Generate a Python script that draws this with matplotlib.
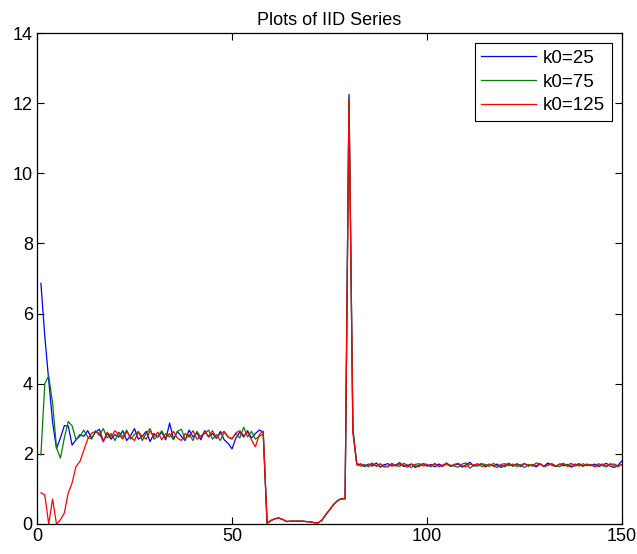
import numpy as np
import matplotlib
matplotlib.use("Agg")
import matplotlib.pyplot as plt

plt.rcParams['font.family'] = ['Liberation Sans', 'DejaVu Sans']

# ---------------------------------
# DATA
# ---------------------------------
title = "Plots of IID Series"
labels = ["k0=25", "k0=75", "k0=125"]
colors = ["#0000ff", "#008000", "#ff0000"]

# shared trough and spike section, x = 59..81
trough_k25 = [0.02, 0.10, 0.15, 0.17, 0.13, 0.07, 0.08, 0.08, 0.08, 0.08, 0.07, 0.06,
              0.04, 0.03, 0.10, 0.26, 0.40, 0.55, 0.66, 0.72, 0.72, 12.25, 2.70]
trough_k75 = [0.02, 0.10, 0.15, 0.17, 0.13, 0.07, 0.08, 0.08, 0.08, 0.08, 0.07, 0.06,
              0.04, 0.03, 0.10, 0.26, 0.40, 0.55, 0.66, 0.72, 0.72, 12.15, 2.65]
trough_k125 = [0.02, 0.10, 0.15, 0.17, 0.13, 0.07, 0.08, 0.08, 0.08, 0.08, 0.07, 0.06,
               0.04, 0.03, 0.10, 0.26, 0.40, 0.55, 0.66, 0.72, 0.72, 12.10, 2.60]

# x = 1..58
head_k25 = [6.86, 5.35, 4.10, 2.90, 2.15, 2.45, 2.80, 2.80, 2.25, 2.40,
            2.55, 2.50, 2.66, 2.45, 2.62, 2.70, 2.36, 2.58, 2.42, 2.55,
            2.48, 2.66, 2.38, 2.52, 2.72, 2.42, 2.50, 2.64, 2.35, 2.58,
            2.48, 2.62, 2.40, 2.88, 2.42, 2.64, 2.50, 2.38, 2.68, 2.48,
            2.60, 2.40, 2.66, 2.48, 2.58, 2.44, 2.64, 2.40, 2.30, 2.14,
            2.45, 2.62, 2.48, 2.66, 2.45, 2.58, 2.68, 2.62]
head_k75 = [1.97, 4.00, 4.22, 3.45, 2.17, 1.88, 2.45, 2.92, 2.80, 2.40,
            2.50, 2.68, 2.48, 2.42, 2.66, 2.52, 2.72, 2.45, 2.58, 2.38,
            2.62, 2.48, 2.68, 2.42, 2.55, 2.64, 2.38, 2.58, 2.72, 2.42,
            2.50, 2.66, 2.45, 2.58, 2.40, 2.64, 2.70, 2.42, 2.55, 2.38,
            2.64, 2.48, 2.58, 2.68, 2.42, 2.55, 2.38, 2.62, 2.48, 2.44,
            2.58, 2.45, 2.76, 2.48, 2.64, 2.42, 2.50, 2.56]
head_k125 = [0.89, 0.83, 0.00, 0.71, 0.00, 0.12, 0.31, 0.88, 1.17, 1.64,
             1.78, 2.10, 2.42, 2.59, 2.64, 2.59, 2.34, 2.62, 2.48, 2.66,
             2.55, 2.42, 2.64, 2.48, 2.38, 2.62, 2.50, 2.42, 2.66, 2.48,
             2.62, 2.40, 2.58, 2.48, 2.64, 2.45, 2.38, 2.58, 2.48, 2.66,
             2.42, 2.50, 2.62, 2.50, 2.66, 2.45, 2.58, 2.64, 2.48, 2.42,
             2.60, 2.66, 2.52, 2.62, 2.40, 2.20, 2.55, 2.65]

# x = 82..150
tail_k25 = [1.72, 1.68, 1.64, 1.71, 1.65, 1.74, 1.62, 1.69, 1.72, 1.65,
            1.68, 1.75, 1.64, 1.67, 1.71, 1.61, 1.68, 1.72, 1.65, 1.70,
            1.63, 1.71, 1.66, 1.74, 1.64, 1.68, 1.71, 1.62, 1.69, 1.76,
            1.65, 1.68, 1.72, 1.63, 1.70, 1.66, 1.71, 1.61, 1.68, 1.73,
            1.65, 1.70, 1.64, 1.72, 1.66, 1.68, 1.63, 1.71, 1.65, 1.74,
            1.68, 1.64, 1.71, 1.66, 1.70, 1.62, 1.68, 1.72, 1.65, 1.70,
            1.66, 1.71, 1.64, 1.68, 1.73, 1.65, 1.61, 1.68, 1.80]
tail_k75 = [1.70, 1.65, 1.70, 1.63, 1.71, 1.66, 1.72, 1.62, 1.65, 1.71,
            1.68, 1.64, 1.73, 1.68, 1.61, 1.70, 1.72, 1.65, 1.68, 1.63,
            1.71, 1.66, 1.64, 1.72, 1.68, 1.65, 1.62, 1.71, 1.74, 1.59,
            1.68, 1.65, 1.71, 1.70, 1.64, 1.73, 1.66, 1.68, 1.63, 1.71,
            1.65, 1.72, 1.68, 1.61, 1.70, 1.65, 1.74, 1.71, 1.64, 1.68,
            1.72, 1.66, 1.63, 1.71, 1.68, 1.73, 1.65, 1.70, 1.64, 1.71,
            1.68, 1.65, 1.72, 1.66, 1.63, 1.70, 1.71, 1.65, 1.70]
tail_k125 = [1.68, 1.72, 1.65, 1.68, 1.74, 1.64, 1.70, 1.66, 1.63, 1.73,
             1.65, 1.70, 1.68, 1.62, 1.71, 1.66, 1.64, 1.72, 1.70, 1.65,
             1.73, 1.63, 1.68, 1.71, 1.65, 1.70, 1.73, 1.66, 1.63, 1.71,
             1.68, 1.72, 1.64, 1.66, 1.71, 1.65, 1.61, 1.70, 1.72, 1.66,
             1.71, 1.64, 1.68, 1.73, 1.65, 1.70, 1.66, 1.72, 1.63, 1.68,
             1.71, 1.65, 1.70, 1.73, 1.64, 1.68, 1.71, 1.65, 1.72, 1.66,
             1.70, 1.63, 1.68, 1.71, 1.65, 1.72, 1.66, 1.64, 1.70]

series = [head_k25 + trough_k25 + tail_k25,
          head_k75 + trough_k75 + tail_k75,
          head_k125 + trough_k125 + tail_k125]

# ---------------------------------
# PLOT
# ---------------------------------
fig = plt.figure(figsize=(6.37, 5.54), dpi=100)
ax = fig.add_axes([37 / 637, 30 / 554, 585 / 637, 491 / 554])

for vals, lab, col in zip(series, labels, colors):
    x = np.arange(1, len(vals) + 1)
    ax.plot(x, vals, color=col, lw=0.9, label=lab)

ax.set_xlim(0, 150)
ax.set_ylim(0, 14)
ax.set_xticks([0, 50, 100, 150])
ax.set_yticks(range(0, 15, 2))
ax.tick_params(direction="in", top=True, right=True, length=5, labelsize=13, pad=3)
for s in ax.spines.values():
    s.set_linewidth(0.9)

ax.set_title(title, fontsize=13, pad=6)

leg = ax.legend(loc="upper right", fontsize=13.5, handlelength=2.9, fancybox=False,
                framealpha=1, edgecolor="black", borderpad=0.35, labelspacing=0.35,
                handletextpad=0.4, borderaxespad=0.55)
leg.get_frame().set_linewidth(0.8)

fig.savefig("out.png", dpi=100)
